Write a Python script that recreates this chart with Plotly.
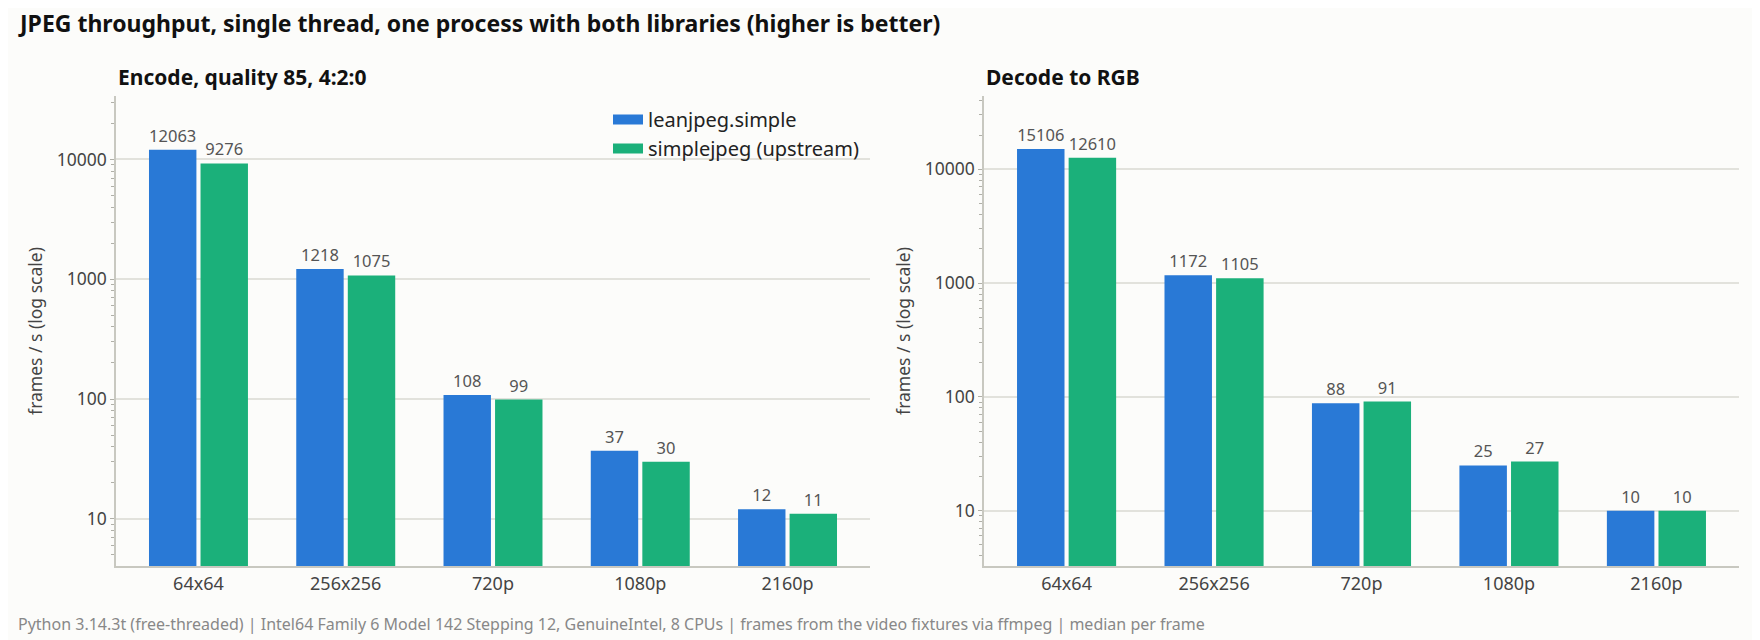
import plotly.graph_objects as go

categories = ["64x64", "256x256", "720p", "1080p", "2160p"]
series_names = ["leanjpeg.simple", "simplejpeg (upstream)"]
encode_lean = [12063, 1218, 108, 37, 12]
encode_simple = [9276, 1075, 99, 30, 11]
decode_lean = [15106, 1172, 88, 25, 10]
decode_simple = [12610, 1105, 91, 27, 10]
ytick_vals = [10, 100, 1000, 10000]
ytick_text = ["10", "100", "1000", "10000"]

title_text = "JPEG throughput, single thread, one process with both libraries (higher is better)"
panel_titles = ["Encode, quality 85, 4:2:0", "Decode to RGB"]
footer_text = ("Python 3.14.3t (free-threaded) | Intel64 Family 6 Model 142 Stepping 12, GenuineIntel, "
               "8 CPUs | frames from the video fixtures via ffmpeg | median per frame")
y_title = "frames / s (log scale)"

# page body has an 8px margin; the figure fills the rest of the 1760x640 window
OFF = 8
W, H = 1760 - OFF, 640 - OFF


def px(x):
    return (x - OFF) / W


def py(y):
    return 1 - (y - OFF) / H


BLUE = "#2979d6"
GREEN = "#1bb07a"
COLORS = [BLUE, GREEN]
FONT = "Noto Sans"
BG = "#fcfcfa"

fig = go.Figure()

panels = [
    (encode_lean, encode_simple, "x", "y"),
    (decode_lean, decode_simple, "x2", "y2"),
]
for lean, simple, xa, ya in panels:
    for vals, name, color in zip((lean, simple), series_names, COLORS):
        fig.add_trace(go.Bar(
            x=categories, y=vals, name=name, marker_color=color, marker_line_width=0,
            text=[str(v) for v in vals], textposition="outside", cliponaxis=False,
            textfont=dict(family=FONT, size=16.5, color="#555555"),
            xaxis=xa, yaxis=ya, showlegend=False,
        ))

# legend entries (wide swatches)
for name, color in zip(series_names, COLORS):
    fig.add_trace(go.Scatter(x=[None], y=[None], mode="lines", name=name,
                             line=dict(color=color, width=14), xaxis="x", yaxis="y",
                             showlegend=True, hoverinfo="skip"))

left_dom = [px(116), px(870)]
right_dom = [px(984), px(1739)]
ydom = [py(566), py(96)]


def xaxis(dom, anchor):
    return dict(domain=dom, anchor=anchor, type="category", range=[-0.56, 4.56],
                showline=True, linecolor="#c8c8c0", linewidth=2, ticks="",
                showgrid=False, tickfont=dict(family=FONT, size=18, color="#444444"))


def yaxis(dom, anchor, rng):
    return dict(domain=dom, anchor=anchor, type="log", range=rng,
                tickvals=ytick_vals, ticktext=ytick_text,
                showline=True, linecolor="#c8c8c0", linewidth=1.5,
                ticks="outside", ticklen=4, tickcolor="#b0b0a8",
                minor=dict(ticks="outside", ticklen=3, tickcolor="#b0b0a8", dtick="D1", showgrid=False),
                showgrid=True, gridcolor="#e2e2dc", gridwidth=1.5, zeroline=False,
                tickfont=dict(family=FONT, size=17.5, color="#444444"),
                title=dict(text=y_title, font=dict(family=FONT, size=17.5, color="#444444"), standoff=10))


fig.update_layout(
    width=W, height=H,
    paper_bgcolor=BG, plot_bgcolor=BG,
    margin=dict(l=0, r=0, t=0, b=0),
    barmode="group", bargap=0.3, bargroupgap=0.08,
    xaxis=xaxis(left_dom, "y"),
    yaxis=yaxis(ydom, "x", [0.606, 4.53]),
    xaxis2=xaxis(right_dom, "y2"),
    yaxis2=yaxis(ydom, "x2", [0.514, 4.644]),
    legend=dict(x=px(608), y=py(100), xanchor="left", yanchor="top",
                bgcolor="rgba(0,0,0,0)", font=dict(family=FONT, size=20, color="#222222"),
                tracegroupgap=0, itemwidth=30),
    showlegend=True,
)

fig.add_annotation(text="<b>" + title_text + "</b>", x=px(16), y=py(23), xref="paper", yref="paper",
                   xanchor="left", yanchor="middle", showarrow=False,
                   font=dict(family=FONT, size=23, color="#111111"))
for t, dom in zip(panel_titles, (left_dom, right_dom)):
    fig.add_annotation(text="<b>" + t + "</b>", x=dom[0], y=py(77), xref="paper", yref="paper",
                       xanchor="left", yanchor="middle", showarrow=False,
                       font=dict(family=FONT, size=21, color="#111111"))
fig.add_annotation(text=footer_text, x=px(16), y=py(624), xref="paper", yref="paper",
                   xanchor="left", yanchor="middle", showarrow=False,
                   font=dict(family=FONT, size=16, color="#888888"))

fig.write_html("out.html")
